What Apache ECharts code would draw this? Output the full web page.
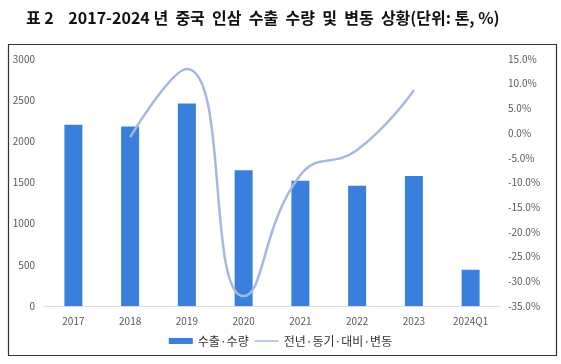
<!DOCTYPE html>
<html><head><meta charset="utf-8">
<script src="https://cdn.jsdelivr.net/npm/echarts@6/dist/echarts.min.js"></script>
<style>html,body{margin:0;padding:0;background:#fff}#c{width:561px;height:364px}</style>
</head><body><div id="c"></div>
<script>
var categories = ['2017','2018','2019','2020','2021','2022','2023','2024Q1'];
var exportVolume = [2200, 2180, 2460, 1650, 1520, 1460, 1580, 440];
var yoyChange = [null, -0.8, 13.0, -33.0, -8.5, -3.4, 8.7, null];
var leftTicks = {min: 0, max: 3000, interval: 500};
var rightTicks = {min: -35, max: 15, interval: 5};

var chart = echarts.init(document.getElementById('c'));
var font = '"Noto Sans CJK KR", "Noto Sans", sans-serif';
chart.setOption({
  animation: false,
  textStyle: {fontFamily: font},
  title: {
    text: '표 2    2017-2024 년  중국  인삼  수출  수량  및  변동  상황(단위: 톤, %)',
    left: 21, top: 5,
    textStyle: {fontSize: 16, fontWeight: 'bold', color: '#111', fontFamily: font}
  },
  graphic: [{type: 'rect', shape: {x: 8.5, y: 44.5, width: 548, height: 311}, style: {fill: 'none', stroke: '#333', lineWidth: 1.2}, silent: true}],
  legend: {
    bottom: 12, left: 'center', itemGap: 6,
    textStyle: {fontSize: 12, color: '#333', fontFamily: font},
    data: [
      {name: '수출·수량', icon: 'rect', itemStyle: {color: '#3a7fdc'}},
      {name: '전년·동기·대비·변동', icon: 'path://M0,0L24,0L24,1.5L0,1.5Z', itemStyle: {color: '#a6b8e0'}}
    ],
    itemWidth: 24, itemHeight: 6
  },
  grid: {left: 45, right: 62, top: 59, bottom: 58},
  xAxis: {
    type: 'category', data: categories,
    axisLine: {lineStyle: {color: '#d9d9d9'}}, axisTick: {show: false},
    axisLabel: {color: '#595959', fontSize: 10, margin: 10}
  },
  yAxis: [
    {type: 'value', min: leftTicks.min, max: leftTicks.max, interval: leftTicks.interval,
     axisLine: {show: false}, axisTick: {show: false}, splitLine: {show: false},
     axisLabel: {color: '#595959', fontSize: 10, margin: 10, formatter: function(v){return String(v);}}},
    {type: 'value', min: rightTicks.min, max: rightTicks.max, interval: rightTicks.interval,
     axisLine: {show: false}, axisTick: {show: false}, splitLine: {show: false},
     axisLabel: {color: '#595959', fontSize: 10, margin: 9, formatter: function(v){return v.toFixed(1)+'%';}}}
  ],
  series: [
    {name: '수출·수량', type: 'bar', data: exportVolume, barWidth: 18,
     itemStyle: {color: '#3a7fdc'}},
    {name: '전년·동기·대비·변동', type: 'line', yAxisIndex: 1, data: yoyChange, smooth: 0.5,
     showSymbol: false, symbol: 'none', connectNulls: false,
     lineStyle: {color: '#a6b8e0', width: 2.5}, itemStyle: {color: '#a6b8e0'}}
  ]
});
</script></body></html>
